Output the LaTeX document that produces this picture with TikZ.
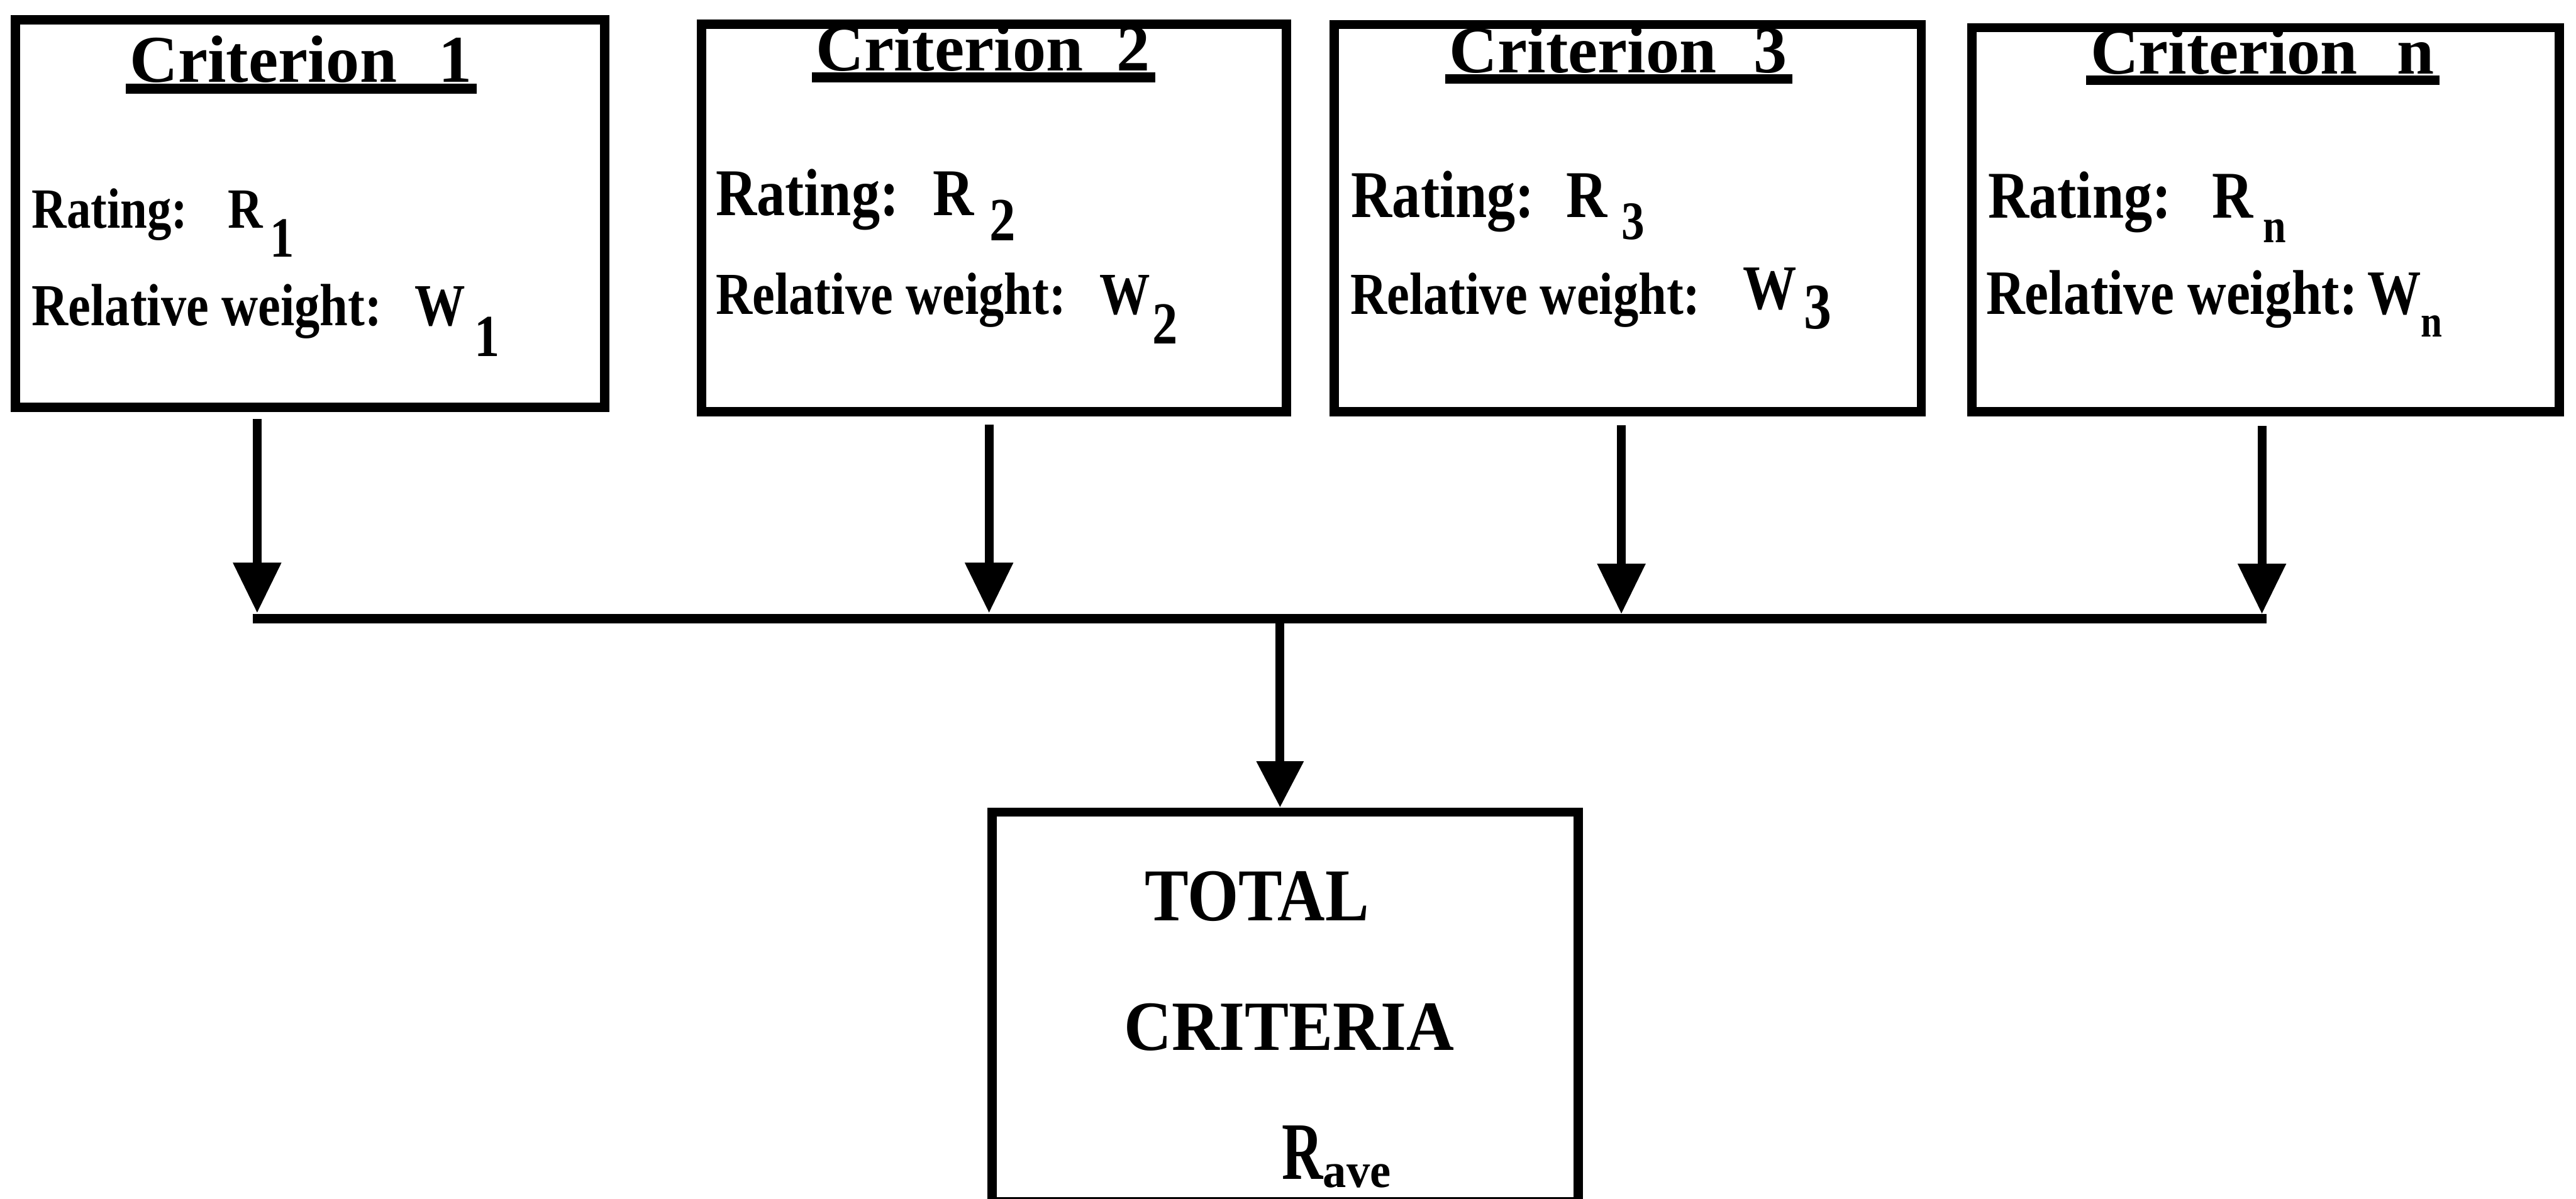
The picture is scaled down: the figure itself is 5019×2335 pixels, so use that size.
\documentclass[tikz,border=0pt]{standalone}
\usepackage{fontspec}
\setmainfont{Liberation Serif}
\newfontfamily\bodyf{Liberation Serif Bold}[FakeStretch=0.85]
\usetikzlibrary{arrows.meta}
\newsavebox\ulbox
\newcommand\ulttl[1]{\sbox\ulbox{#1}\rlap{\hspace*{-0.08cm}\rule[-0.22cm]{\dimexpr\wd\ulbox+0.18cm\relax}{0.19cm}}\usebox\ulbox}
\newcommand\fsz[1]{\fontsize{#1}{#1}\selectfont}
\begin{document}
\begin{tikzpicture}[x=0.01cm,y=-0.01cm,
  critbox/.style={draw, line width=0.18cm, inner sep=0pt, rectangle},
  txt/.style={inner sep=0pt, outer sep=0pt, anchor=base west},
  ttl/.style={txt, font=\bfseries\fsz{37}},
  arr/.style={line width=0.17cm, -{Triangle[length=0.98cm,width=0.9cm]}},
  arrc/.style={line width=0.17cm, -{Triangle[length=0.9cm,width=0.88cm]}},
  bus/.style={line width=0.19cm}]
\useasboundingbox (0,0) rectangle (5019,2335);
\clip (0,0) rectangle (5019,2335);
% boxes
\node[critbox, minimum width=11.48cm, minimum height=7.54cm] (b1) at (604,416) {};
\node[critbox, minimum width=11.39cm, minimum height=7.55cm] (b2) at (1936.5,424.5) {};
\node[critbox, minimum width=11.43cm, minimum height=7.54cm] (b3) at (3171.5,425) {};
\node[critbox, minimum width=11.44cm, minimum height=7.48cm] (bn) at (4414,428) {};
\node[critbox, minimum width=11.42cm, minimum height=7.59cm] (tot) at (2504,1961.5) {};
% titles
\node[ttl] (c1) at (253,160) {\ulttl{\makebox[6.01cm][l]{Criterion}1}};
\node[ttl] (c2) at (1590,138) {\ulttl{\makebox[5.85cm][l]{Criterion}2}};
\node[ttl] (c3) at (2824,141) {\ulttl{\makebox[5.93cm][l]{Criterion}3}};
\node[ttl] (cn) at (4073,144) {\ulttl{\makebox[5.97cm][l]{Criterion}n}};
% box 1
\node[txt, font=\bodyf\fsz{31.5}] (r1) at (62,444) {\makebox[3.82cm][l]{Rating:}R\hspace{0.14cm}\raisebox{-0.57cm}{1}};
\node[txt, font=\bodyf\fsz{33}] (w1) at (62,634) {\makebox[7.46cm][l]{Relative weight:}W\hspace{0.17cm}\raisebox{-0.6cm}{1}};
% box 2
\node[txt, font=\bodyf\fsz{37}] (r2) at (1395,420) {\makebox[4.23cm][l]{Rating:}R\hspace{0.3cm}\raisebox{-0.49cm}{\fsz{34}2}};
\node[txt, font=\bodyf\fsz{33}] (w2) at (1395,612) {\makebox[7.47cm][l]{Relative weight:}W\hspace{0.04cm}\raisebox{-0.57cm}{2}};
% box 3
\node[txt, font=\bodyf\fsz{37}] (r3) at (2633,423) {\makebox[4.19cm][l]{Rating:}R\hspace{0.27cm}\raisebox{-0.43cm}{\fsz{30}3}};
\node[txt, font=\bodyf\fsz{33}] (w3) at (2631,612) {\makebox[7.65cm][l]{Relative weight:}\raisebox{0.1cm}{\fsz{35}W}\hspace{0.14cm}\raisebox{-0.28cm}{\fsz{36}3}};
% box n
\node[txt, font=\bodyf\fsz{37}] (rn) at (3874,425) {\makebox[4.36cm][l]{Rating:}R\hspace{0.19cm}\raisebox{-0.47cm}{\fsz{27}n}};
\node[txt, font=\bodyf\fsz{35}] (wn) at (3870,612) {\makebox[7.42cm][l]{Relative weight:}W\raisebox{-0.44cm}{\fsz{25}n}};
% total box text
\node[txt, font=\bfseries] (tt1) at (2231,1793) {\resizebox{4.36cm}{0.96cm}{TOTAL}};
\node[txt, font=\bfseries] (tt2) at (2190,2046) {\resizebox{6.43cm}{0.91cm}{CRITERIA}};
\node[txt, font=\bfseries] (rave) at (2498,2297) {\resizebox{0.8cm}{1.04cm}{R}\raisebox{-0.16cm}{\resizebox{1.32cm}{0.45cm}{ave}}};
% connectors
\coordinate (s1) at (501,816);
\coordinate (s2) at (1927,827);
\coordinate (s3) at (3159,828);
\coordinate (s4) at (4407,830);
\coordinate (busL) at (492,1205);
\coordinate (busR) at (4416,1205);
\coordinate (busM) at (2494,1212);
\draw[arr] (s1) -- (s1 |- 0,1194);
\draw[arr] (s2) -- (s2 |- 0,1194);
\draw[arr] (s3) -- (s3 |- 0,1196);
\draw[arr] (s4) -- (s4 |- 0,1196);
\draw[bus] (busL) -- (busR);
\draw[arrc] (busM) -- (busM |- tot.north);
\end{tikzpicture}
\end{document}
